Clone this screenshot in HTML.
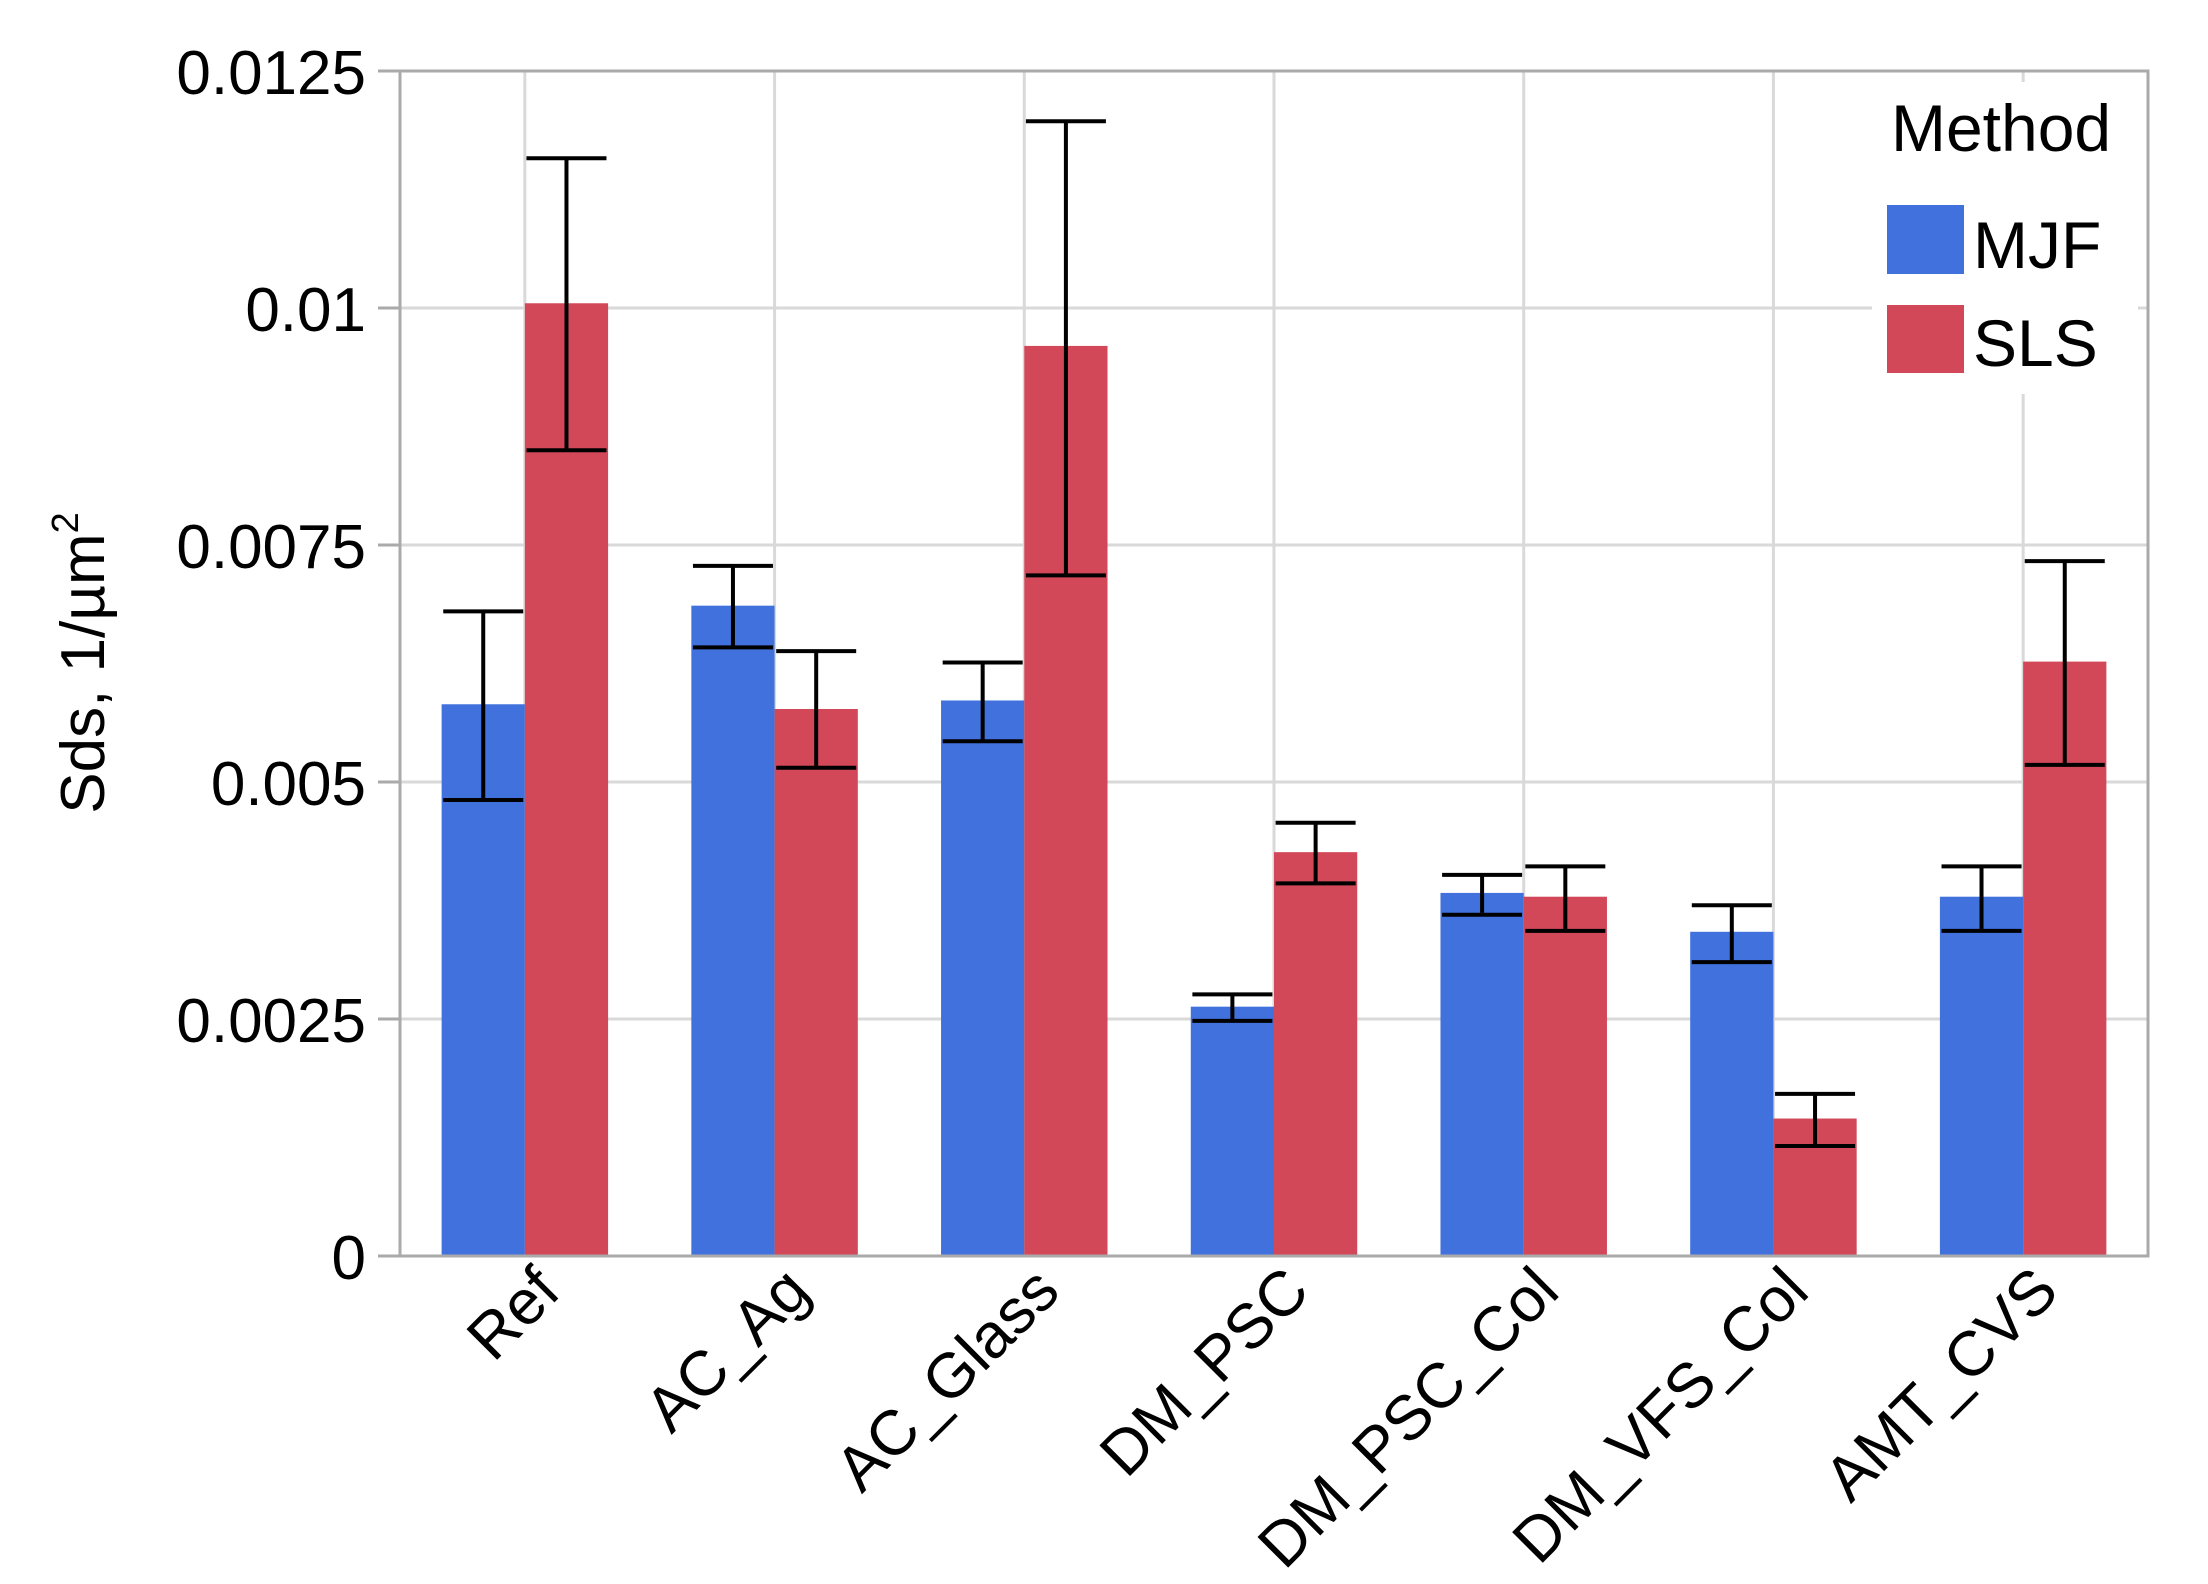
<!DOCTYPE html>
<html><head><meta charset="utf-8">
<style>
html,body{margin:0;padding:0;background:#fff;}
svg{display:block;}
text{font-family:"Liberation Sans","DejaVu Sans",sans-serif;fill:#000;}
</style></head>
<body>
<svg id="chart" width="2208" height="1584" viewBox="0 0 2208 1584" xmlns="http://www.w3.org/2000/svg">
  <g id="grid"></g>
  <g id="bars"></g>
  <g id="errs"></g>
  <g id="axes"></g>
  <g id="legend">
    <rect x="1872" y="82" width="266" height="312" fill="#fff"/>
    <text x="1891" y="151" font-size="66">Method</text>
    <rect x="1887" y="205" width="77" height="69" fill="#4171dd"/>
    <text x="1973" y="268" font-size="66">MJF</text>
    <rect x="1887" y="305" width="77" height="68" fill="#d24858"/>
    <text x="1973" y="366" font-size="66">SLS</text>
  </g>
  <text font-size="62" text-anchor="middle" transform="translate(104,663) rotate(-90)">Sds, 1/µm<tspan font-size="38" dy="-26">2</tspan></text>
</svg>
<script>
const categories = ["Ref","AC_Ag","AC_Glass","DM_PSC","DM_PSC_Col","DM_VFS_Col","AMT_CVS"];
const mjfValues = [0.00582,0.00686,0.00586,0.00263,0.00383,0.00342,0.00379];
const mjfUpper  = [0.00680,0.00728,0.00626,0.00276,0.00402,0.00370,0.00411];
const mjfLower  = [0.00481,0.00642,0.00543,0.00248,0.00360,0.00310,0.00343];
const slsValues = [0.01005,0.00577,0.00960,0.00426,0.00379,0.00145,0.00627];
const slsUpper  = [0.01158,0.00638,0.01197,0.00457,0.00411,0.00171,0.00733];
const slsLower  = [0.00850,0.00515,0.00718,0.00393,0.00343,0.00116,0.00518];
const yTicks = [0,0.0025,0.005,0.0075,0.01,0.0125];
const yTickLabels = ["0","0.0025","0.005","0.0075","0.01","0.0125"];

const NS="http://www.w3.org/2000/svg";
const L=400,R=2148,T=71,B=1256,YMAX=0.0125;
const band=(R-L)/categories.length, bw=band/3;
const y=v=>B-(v/YMAX)*(B-T);
const cx=i=>L+band*(i+0.5);
function mk(tag,parent,attrs){const e=document.createElementNS(NS,tag);for(const k in attrs)e.setAttribute(k,attrs[k]);document.getElementById(parent).appendChild(e);return e;}

yTicks.forEach((t,i)=>{
  if(t>0&&t<YMAX){
    const g=mk('line','grid',{x1:L,x2:R,y1:y(t),y2:y(t),stroke:'#d9d9d9','stroke-width':3});
    
    
  }
  const tk=mk('line','axes',{x1:378,x2:L,y1:y(t),y2:y(t),stroke:'#aaa','stroke-width':3});
  
  
  const lb=mk('text','axes',{x:366,y:y(t)+23,'font-size':62,'text-anchor':'end'});
  lb.textContent=yTickLabels[i];
  
  
});
categories.forEach((c,i)=>{
  const g=mk('line','grid',{x1:cx(i),x2:cx(i),y1:T,y2:B,stroke:'#d9d9d9','stroke-width':3});
  
  
  const b1=mk('rect','bars',{x:cx(i)-bw,y:y(mjfValues[i]),width:bw,height:B-y(mjfValues[i]),fill:'#4171dd'});
  
  
  const b2=mk('rect','bars',{x:cx(i),y:y(slsValues[i]),width:bw,height:B-y(slsValues[i]),fill:'#d24858'});
  
  
  [[cx(i)-bw/2,mjfUpper[i],mjfLower[i],'mjf'],[cx(i)+bw/2,slsUpper[i],slsLower[i],'sls']].forEach(([x,u,l,s])=>{
    const e=mk('path','errs',{d:`M${x-40},${y(u)}H${x+40}M${x},${y(u)}V${y(l)}M${x-40},${y(l)}H${x+40}`,stroke:'#000','stroke-width':4,fill:'none'});
    
    
  });
  const lb=mk('text','axes',{'font-size':63,'text-anchor':'end',transform:`translate(${cx(i)+38},${1294}) rotate(-45)`});
  lb.textContent=c;
  
  
});
const frame=mk('rect','axes',{x:L,y:T,width:R-L,height:B-T,fill:'none',stroke:'#aaa','stroke-width':3});


</script>
</body></html>
